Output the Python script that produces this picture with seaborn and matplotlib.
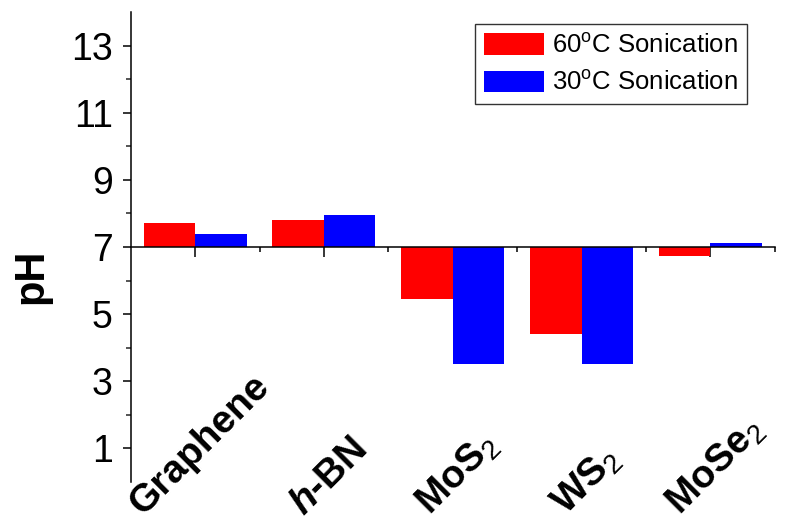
import pandas as pd
import matplotlib.pyplot as plt
import matplotlib.transforms as mtransforms
from matplotlib.patches import Patch
from matplotlib.ticker import FixedLocator
import seaborn as sns

# values
materials = ['Graphene', 'h-BN', 'MoS2', 'WS2', 'MoSe2']
tick_labels = ['Graphene', r'$\mathit{h}$-BN', r'MoS$_\mathrm{2}$', r'WS$_\mathrm{2}$', r'MoSe$_\mathrm{2}$']
ph_60 = [7.70, 7.80, 5.45, 4.40, 6.73]
ph_30 = [7.39, 7.95, 3.50, 3.52, 7.11]
series = [r'60$^\mathrm{o}$C Sonication', r'30$^\mathrm{o}$C Sonication']
colors = ['#ff0000', '#0000ff']
neutral = 7

sns.set_theme(style='ticks')
plt.rcParams['font.family'] = ['Liberation Sans', 'DejaVu Sans']
plt.rcParams['text.color'] = 'black'
plt.rcParams['axes.labelcolor'] = 'black'
plt.rcParams['mathtext.fontset'] = 'custom'
plt.rcParams['mathtext.rm'] = 'Liberation Sans'
plt.rcParams['mathtext.it'] = 'Liberation Sans:italic:bold'
plt.rcParams['mathtext.bf'] = 'Liberation Sans:bold'

df = pd.DataFrame({
    'material': materials * 2,
    'series': [series[0]] * 5 + [series[1]] * 5,
    'pH': ph_60 + ph_30,
})
df['delta'] = df['pH'] - neutral

fig = plt.figure(figsize=(7.85, 5.23), dpi=100)
ax = fig.add_axes([0.1665, 0.0784, 0.8205, 0.8987])

# bars hang from pH 7
sns.barplot(data=df, x='material', y='delta', hue='series', order=materials,
            hue_order=series, palette=colors, errorbar=None, legend=False,
            bottom=neutral, linewidth=0, saturation=1, width=0.8, ax=ax)

ax.set_ylim(0, 14)
ax.set_xlim(-0.5, 4.5)
ax.set_yticks([1, 3, 5, 7, 9, 11, 13])
ax.yaxis.set_minor_locator(FixedLocator([2, 4, 6, 8, 10, 12]))
ax.tick_params(axis='y', labelsize=27, width=1.1, length=6, pad=7, colors='black')
ax.tick_params(axis='y', which='minor', width=1.1, length=3.6, left=True)

# bottom axis drawn at pH 7
ax.spines['bottom'].set_position(('data', neutral))
ax.spines['top'].set_visible(False)
ax.spines['right'].set_visible(False)
for s in ['left', 'bottom']:
    ax.spines[s].set_linewidth(1.1)
    ax.spines[s].set_color('black')
ax.set_xticks(range(len(materials)))
ax.set_xticklabels([])
ax.xaxis.set_minor_locator(FixedLocator([0.5, 1.5, 2.5, 3.5, 4.5]))
ax.tick_params(axis='x', which='major', length=7, width=1.1, direction='out', colors='black')
ax.tick_params(axis='x', which='minor', length=3.6, width=1.1, direction='out', bottom=True, colors='black')
ax.set_xlabel('')

ax.set_ylabel('pH', fontsize=30, fontweight='bold')
ax.yaxis.set_label_coords(-0.123, 0.438)

# category names sit at the bottom of the figure, not on the pH 7 line
trans = mtransforms.blended_transform_factory(ax.transData, fig.transFigure)
for i, lab in enumerate(tick_labels):
    ax.text(i + 0.04, 0.001, lab, transform=trans, rotation=45, ha='center', va='bottom',
            fontsize=28, fontweight='bold', color='black')

handles = [Patch(facecolor=c, edgecolor='none', label=l) for c, l in zip(colors, series)]
leg = ax.legend(handles=handles, loc='upper right', bbox_to_anchor=(0.9566, 0.974),
                borderaxespad=0, fontsize=18.5, frameon=True, fancybox=False,
                handlelength=2.35, handleheight=0.9, handletextpad=0.3,
                labelspacing=0.5, borderpad=0.35)
leg.get_frame().set_edgecolor('black')
leg.get_frame().set_linewidth(1.0)

plt.savefig('out.png', dpi=100)
plt.close()
